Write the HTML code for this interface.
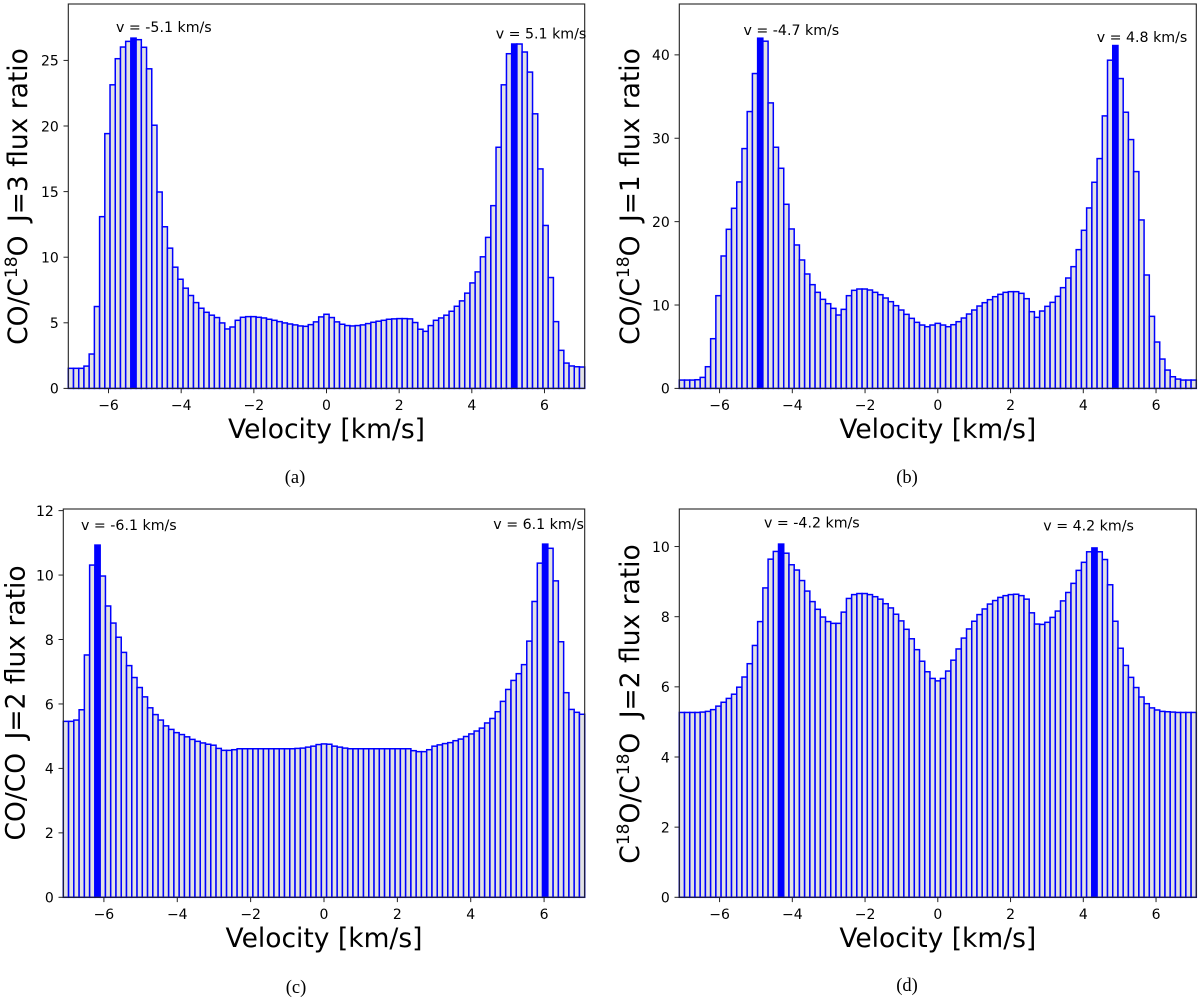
<!DOCTYPE html>
<html lang="en">
<head>
<meta charset="utf-8">
<title>Flux ratio histograms</title>
<style>
html,body{margin:0;padding:0;background:#fff;}
svg{display:block;}
text{font-family:"DejaVu Sans","Liberation Sans",sans-serif;fill:#000;white-space:pre;}
.axis-title{font-size:26.5px;}
.note{font-size:14.2px;}
.tick{font-size:14px;}
.caption{font-family:"Liberation Serif",serif;font-size:18.5px;}
</style>
</head>
<body>
<svg id="figure" width="1200" height="1000" viewBox="0 0 1200 1000" xmlns="http://www.w3.org/2000/svg">
  <g id="panel-a"></g>
  <g id="panel-b"></g>
  <g id="panel-c"></g>
  <g id="panel-d"></g>

  <text class="axis-title" text-anchor="middle" transform="translate(27,196.5) rotate(-90)">CO/C<tspan dy="-10" font-size="17">18</tspan><tspan dy="10">O </tspan><tspan dx="5">J=3 flux ratio</tspan></text>
  <text class="axis-title" text-anchor="middle" transform="translate(639,196.5) rotate(-90)">CO/C<tspan dy="-10" font-size="17">18</tspan><tspan dy="10">O </tspan><tspan dx="5">J=1 flux ratio</tspan></text>
  <text class="axis-title" text-anchor="middle" transform="translate(24.5,703) rotate(-90)">CO/CO <tspan dx="5">J=2 flux ratio</tspan></text>
  <text class="axis-title" text-anchor="middle" transform="translate(639,704) rotate(-90)">C<tspan dy="-10" font-size="17">18</tspan><tspan dy="10">O/C</tspan><tspan dy="-10" font-size="17">18</tspan><tspan dy="10">O </tspan><tspan dx="6">J=2 flux ratio</tspan></text>

  <text class="axis-title" text-anchor="middle" x="326.5" y="438">Velocity [km/s]</text>
  <text class="axis-title" text-anchor="middle" x="937.8" y="438">Velocity [km/s]</text>
  <text class="axis-title" text-anchor="middle" x="324" y="947">Velocity [km/s]</text>
  <text class="axis-title" text-anchor="middle" x="937.8" y="947">Velocity [km/s]</text>

  <text class="note" x="116" y="32">v = -5.1 km/s</text>
  <text class="note" x="495.7" y="38.5">v = 5.1 km/s</text>
  <text class="note" x="743.5" y="35">v = -4.7 km/s</text>
  <text class="note" x="1096.7" y="42">v = 4.8 km/s</text>
  <text class="note" x="81" y="530">v = -6.1 km/s</text>
  <text class="note" x="493.3" y="529">v = 6.1 km/s</text>
  <text class="note" x="764" y="527.5">v = -4.2 km/s</text>
  <text class="note" x="1043.3" y="530.5">v = 4.2 km/s</text>

  <text class="caption" text-anchor="middle" x="295" y="483">(a)</text>
  <text class="caption" text-anchor="middle" x="907" y="483">(b)</text>
  <text class="caption" text-anchor="middle" x="296" y="993">(c)</text>
  <text class="caption" text-anchor="middle" x="907" y="991">(d)</text>
</svg>
<script>
const valuesA = [1.53,1.53,1.53,1.70,2.62,6.24,13.09,19.42,23.14,25.13,26.02,26.45,26.70,26.58,26.00,24.36,20.06,14.97,12.32,10.69,9.24,8.32,7.64,7.08,6.54,6.11,5.80,5.58,5.40,4.99,4.53,4.68,5.19,5.42,5.47,5.47,5.42,5.37,5.27,5.19,5.09,4.99,4.91,4.84,4.76,4.73,4.86,5.07,5.45,5.65,5.40,5.07,4.89,4.79,4.76,4.79,4.84,4.94,5.04,5.12,5.19,5.27,5.30,5.32,5.32,5.30,5.02,4.51,4.35,4.79,5.19,5.37,5.58,5.88,6.26,6.67,7.26,8.04,8.88,10.03,11.51,13.93,18.38,23.14,25.51,26.25,26.25,25.64,24.11,20.93,16.73,12.42,8.45,5.09,2.90,1.93,1.71,1.65,1.63];
const valuesB = [1.00,1.00,1.00,1.04,1.32,2.60,5.96,11.12,15.88,19.08,21.60,24.76,28.76,33.20,37.76,42.00,41.64,34.24,28.92,26.40,22.08,19.12,17.20,15.40,13.72,12.44,11.52,10.68,10.16,9.60,8.80,9.48,11.12,11.76,11.92,11.92,11.80,11.52,11.24,10.84,10.40,9.92,9.40,8.88,8.40,7.92,7.60,7.40,7.60,7.80,7.60,7.40,7.64,8.00,8.44,8.92,9.40,9.88,10.28,10.64,11.00,11.28,11.52,11.60,11.60,11.40,10.76,9.20,8.52,9.28,9.84,10.32,11.04,12.08,13.24,14.60,16.64,18.96,21.64,24.72,27.56,32.68,39.36,41.12,37.16,33.12,29.84,26.00,20.20,13.60,8.64,5.56,3.52,2.20,1.40,1.12,1.00,1.00,1.00];
const valuesC = [5.46,5.46,5.50,5.82,7.52,10.31,10.93,9.97,9.04,8.51,8.07,7.60,7.19,6.82,6.51,6.22,5.88,5.67,5.50,5.32,5.21,5.11,5.05,4.98,4.90,4.84,4.79,4.75,4.72,4.62,4.56,4.56,4.58,4.61,4.61,4.61,4.61,4.61,4.61,4.61,4.61,4.61,4.61,4.61,4.62,4.63,4.66,4.69,4.74,4.76,4.75,4.69,4.66,4.63,4.61,4.61,4.61,4.61,4.61,4.61,4.61,4.61,4.61,4.61,4.61,4.61,4.55,4.52,4.52,4.58,4.69,4.73,4.77,4.80,4.86,4.91,4.99,5.07,5.16,5.25,5.41,5.55,5.76,6.08,6.45,6.73,6.94,7.22,7.95,9.18,10.37,10.96,10.83,9.82,7.93,6.35,5.83,5.74,5.68];
const valuesD = [5.27,5.27,5.27,5.27,5.28,5.30,5.35,5.45,5.56,5.67,5.79,5.99,6.28,6.66,7.18,7.86,8.82,9.64,9.86,10.07,9.81,9.48,9.33,9.03,8.73,8.43,8.21,7.99,7.86,7.81,7.81,8.13,8.52,8.63,8.66,8.66,8.63,8.57,8.50,8.37,8.25,8.07,7.88,7.64,7.37,7.06,6.73,6.43,6.24,6.17,6.24,6.45,6.76,7.08,7.39,7.65,7.87,8.06,8.22,8.36,8.46,8.55,8.60,8.63,8.64,8.60,8.50,8.11,7.79,7.78,7.84,7.98,8.16,8.45,8.69,8.95,9.32,9.55,9.85,9.96,9.85,9.63,8.91,7.87,7.10,6.61,6.27,5.98,5.71,5.52,5.40,5.34,5.30,5.29,5.28,5.27,5.27,5.27,5.27];

const peakBinsA = [12,85];
const peakBinsB = [15,83];
const peakBinsC = [6,91];
const peakBinsD = [19,79];

const xTickValues = [-6,-4,-2,0,2,4,6];
const yTicksA = [0,5,10,15,20,25];
const yTicksB = [0,10,20,30,40];
const yTicksC = [0,2,4,6,8,10,12];
const yTicksD = [0,2,4,6,8,10];

const xLimit = 7.107;
const yLimitA = 29.3;
const yLimitB = 46.1;
const yLimitC = 12.05;
const yLimitD = 11.07;

const SVG_NS = 'http://www.w3.org/2000/svg';

function makeSvg(tag, parent) {
  const el = document.createElementNS(SVG_NS, tag);
  parent.appendChild(el);
  return el;
}

function drawPanel(id, left, right, top, bottom, values, peaks, yTicks, yMax) {
  const group = document.getElementById(id);
  const xScale = function (v) { return left + (v + xLimit) / (2 * xLimit) * (right - left); };
  const yScale = function (v) { return bottom - v / yMax * (bottom - top); };
  const binWidth = (2 * xLimit) / values.length;

  values.forEach(function (value, i) {
    const x0 = xScale(-xLimit + i * binWidth);
    const x1 = xScale(-xLimit + (i + 1) * binWidth);
    const isPeak = peaks.indexOf(i) >= 0;
    const bar = makeSvg('rect', group);
    
    
    bar.setAttribute('x', x0.toFixed(2));
    bar.setAttribute('y', yScale(value).toFixed(2));
    bar.setAttribute('width', (x1 - x0).toFixed(2));
    bar.setAttribute('height', (bottom - yScale(value)).toFixed(2));
    bar.setAttribute('fill', isPeak ? '#0000ff' : '#e2e2e2');
    bar.setAttribute('stroke', '#0000ff');
    bar.setAttribute('stroke-width', '1.5');
  });

  const frame = makeSvg('rect', group);
  
  
  frame.setAttribute('x', left);
  frame.setAttribute('y', top);
  frame.setAttribute('width', right - left);
  frame.setAttribute('height', bottom - top);
  frame.setAttribute('fill', 'none');
  frame.setAttribute('stroke', '#222');
  frame.setAttribute('stroke-width', '1.1');

  xTickValues.forEach(function (t) {
    const px = xScale(t);
    const mark = makeSvg('line', group);
    
    
    mark.setAttribute('x1', px);
    mark.setAttribute('x2', px);
    mark.setAttribute('y1', bottom);
    mark.setAttribute('y2', bottom + 4.8);
    mark.setAttribute('stroke', '#222');
    mark.setAttribute('stroke-width', '1');
    const label = makeSvg('text', group);
    
    
    label.setAttribute('class', 'tick');
    label.setAttribute('x', px);
    label.setAttribute('y', bottom + 21.5);
    label.setAttribute('text-anchor', 'middle');
    label.textContent = String(t).replace('-', '\u2212');
  });

  yTicks.forEach(function (t) {
    const py = yScale(t);
    const mark = makeSvg('line', group);
    
    
    mark.setAttribute('x1', left - 4.8);
    mark.setAttribute('x2', left);
    mark.setAttribute('y1', py);
    mark.setAttribute('y2', py);
    mark.setAttribute('stroke', '#222');
    mark.setAttribute('stroke-width', '1');
    const label = makeSvg('text', group);
    
    
    label.setAttribute('class', 'tick');
    label.setAttribute('x', left - 9.5);
    label.setAttribute('y', py + 5.3);
    label.setAttribute('text-anchor', 'end');
    label.textContent = String(t);
  });
}

drawPanel('panel-a', 68.3, 584.7, 4, 388.4, valuesA, peakBinsA, yTicksA, yLimitA);
drawPanel('panel-b', 679.3, 1196.3, 4, 388.4, valuesB, peakBinsB, yTicksB, yLimitB);
drawPanel('panel-c', 63.3, 584.7, 509, 897.3, valuesC, peakBinsC, yTicksC, yLimitC);
drawPanel('panel-d', 679.3, 1196.3, 509, 897.3, valuesD, peakBinsD, yTicksD, yLimitD);
</script>
</body>
</html>
